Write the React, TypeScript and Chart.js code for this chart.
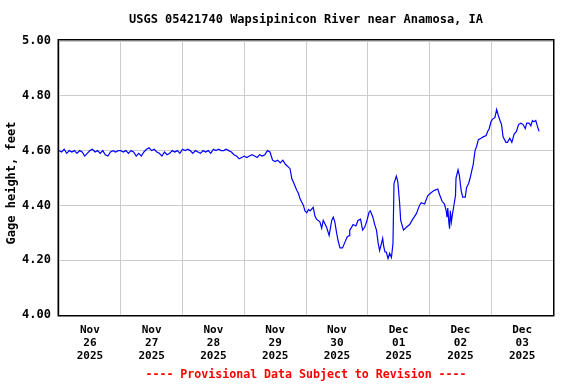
import React, { useEffect, useRef } from "react";
import { Chart, registerables } from "chart.js";

Chart.register(...registerables);

// Hours since Nov 26 2025 00:00
const hours: number[] = [
  0, 1, 2, 3, 4, 5, 6, 7, 8, 9, 10, 11, 12, 13, 14, 15, 16, 17, 18, 19, 20,
  21, 22, 23, 24, 25, 26, 27, 28, 29, 30, 31, 32, 33, 34, 35, 36, 37, 38, 39,
  40, 41, 42, 43, 44, 45, 46, 47, 48, 49, 50, 51, 52, 53, 54, 55, 56, 57, 58,
  59, 60, 61, 62, 63, 64, 65, 66, 67, 68, 69, 70, 71, 72, 73, 74, 75, 76, 77,
  78, 79, 80, 81, 82, 83, 84, 85, 86, 87, 88,
  89.8, 90.5, 91.1, 92.4, 93.0, 93.7, 95.0, 95.6, 96.3, 97.0, 97.6, 98.8,
  99.5, 100.1, 101.4, 102.1, 102.7, 104.0, 105.0, 106.0, 106.6, 107.2, 107.9,
  108.5, 109.2, 110.2, 111.1, 112.0, 112.8, 113.0, 113.7, 114.3, 115.4, 116.2,
  117.2, 118.0, 118.8, 119.7, 120.5, 121.0, 122.0, 122.7, 123.4, 124.0, 124.6,
  125.3, 125.8, 126.2, 126.7, 127.2, 127.9, 128.5, 129.2, 129.8, 130.2, 131.1,
  131.7, 132.4, 132.8, 133.9, 135.0, 136.3, 137.5, 138.9, 140.1, 140.8, 142.1,
  143.3, 144.7, 145.9, 147.2, 147.9, 148.9, 149.8, 150.5, 150.8, 151.1, 151.5,
  151.8, 152.1, 152.5, 152.8, 153.3, 154.1, 154.3, 155.1, 155.6, 156.3, 156.9,
  157.9, 158.4, 159.2, 159.8, 160.5, 161.0, 161.7, 162.3, 163.0, 164.0, 164.9,
  166.0, 166.6, 167.2, 167.9, 168.5, 169.4, 170.1, 170.7, 171.4, 172.0, 172.6,
  173.7, 174.3, 175.2, 176.0, 176.9, 177.8, 178.6, 179.5, 180.4, 181.2, 181.8,
  182.7, 183.4, 184.0, 184.6, 185.3, 185.9, 186.6,
];

// Gage height, feet
const gage: number[] = [
  4.6, 4.595, 4.605, 4.59, 4.6, 4.595, 4.6, 4.59, 4.6, 4.595, 4.58, 4.59, 4.6,
  4.605, 4.595, 4.6, 4.59, 4.6, 4.585, 4.58, 4.595, 4.6, 4.595, 4.6, 4.6,
  4.595, 4.6, 4.59, 4.6, 4.595, 4.58, 4.59, 4.58, 4.595, 4.605, 4.61, 4.6,
  4.605, 4.595, 4.59, 4.58, 4.595, 4.585, 4.59, 4.6, 4.595, 4.6, 4.59, 4.605,
  4.6, 4.605, 4.6, 4.59, 4.6, 4.595, 4.59, 4.6, 4.595, 4.6, 4.59, 4.605, 4.6,
  4.605, 4.6, 4.6, 4.605, 4.6, 4.595, 4.585, 4.58, 4.57, 4.575, 4.58, 4.575,
  4.58, 4.585, 4.58, 4.575, 4.585, 4.58, 4.585, 4.6, 4.595, 4.565, 4.56,
  4.565, 4.555, 4.565, 4.55,
  4.534, 4.497, 4.485, 4.455, 4.445, 4.424, 4.4, 4.38, 4.373, 4.385, 4.38,
  4.393, 4.36, 4.35, 4.34, 4.317, 4.345, 4.32, 4.29, 4.345, 4.357, 4.34, 4.3,
  4.27, 4.245, 4.245, 4.265, 4.285, 4.29, 4.31, 4.32, 4.33, 4.325, 4.345,
  4.35, 4.31, 4.32, 4.345, 4.375, 4.38, 4.357, 4.33, 4.31, 4.265, 4.235,
  4.26, 4.28, 4.25, 4.23, 4.23, 4.206, 4.225, 4.21, 4.26, 4.48, 4.507,
  4.486, 4.407, 4.345, 4.31, 4.32, 4.33, 4.35, 4.37, 4.4, 4.41, 4.405,
  4.435, 4.447, 4.455, 4.46, 4.44, 4.415, 4.405, 4.38, 4.357, 4.39, 4.34,
  4.315, 4.38, 4.34, 4.36, 4.39, 4.435, 4.5, 4.53, 4.51, 4.455, 4.43,
  4.43, 4.465, 4.48, 4.5, 4.53, 4.55, 4.6, 4.615, 4.64, 4.645, 4.65,
  4.655, 4.67, 4.68, 4.705, 4.715, 4.72, 4.75, 4.73, 4.71, 4.695, 4.65,
  4.63, 4.63, 4.645, 4.63, 4.66, 4.67, 4.695, 4.7, 4.695, 4.68, 4.7,
  4.7, 4.69, 4.71, 4.705, 4.71, 4.69, 4.67,
];

const tickMonths: string[] = ["Nov", "Nov", "Nov", "Nov", "Nov", "Dec", "Dec", "Dec"];
const tickDays: string[] = ["26", "27", "28", "29", "30", "01", "02", "03"];
const tickYears: string[] = ["2025", "2025", "2025", "2025", "2025", "2025", "2025", "2025"];
const yTicks: number[] = [4.0, 4.2, 4.4, 4.6, 4.8, 5.0];

const TITLE = "USGS 05421740 Wapsipinicon River near Anamosa, IA";
const FOOTER = "---- Provisional Data Subject to Revision ----";
const Y_TITLE = "Gage height, feet";
const FONT = "'DejaVu Sans Mono', 'Liberation Mono', monospace";

export default function App() {
  const ref = useRef<HTMLCanvasElement | null>(null);

  useEffect(() => {
    if (!ref.current) return;
    const points = hours.map((h, i) => ({ x: h, y: gage[i] }));

    const decor = {
      id: "decor",
      afterDatasetsDraw(chart: any) {
        const { ctx, chartArea } = chart;
        const { left, right, top, bottom } = chartArea;
        ctx.save();
        ctx.strokeStyle = "#000";
        ctx.lineWidth = 1.5;
        ctx.strokeRect(left - 0.75, top - 1.25, right - left + 1.5, bottom - top + 2);
        ctx.fillStyle = "#000";
        ctx.font = `bold 12px ${FONT}`;
        ctx.textAlign = "center";
        ctx.textBaseline = "middle";
        ctx.fillText(TITLE, (left + right) / 2, 20);
        ctx.fillStyle = "#ff0000";
        ctx.font = `bold 11.6px ${FONT}`;
        ctx.fillText(FOOTER, (left + right) / 2, 375);
        ctx.fillStyle = "#000";
        ctx.font = `bold 12px ${FONT}`;
        ctx.translate(12, 183);
        ctx.rotate(-Math.PI / 2);
        ctx.fillText(Y_TITLE, 0, 0);
        ctx.restore();
      },
    };

    const chart = new Chart(ref.current, {
      type: "line",
      data: {
        datasets: [
          {
            data: points,
            borderColor: "#0000ff",
            borderWidth: 1.2,
            pointRadius: 0,
            tension: 0,
            fill: false,
          },
        ],
      },
      options: {
        responsive: false,
        animation: false,
        layout: { padding: { left: 0, right: 23, top: 41, bottom: 0 } },
        plugins: { legend: { display: false }, tooltip: { enabled: false } },
        scales: {
          x: {
            type: "linear",
            min: 0,
            max: 192,
            afterFit: (s: any) => {
              s.height = 69;
            },
            afterBuildTicks: (s: any) => {
              const t = [];
              for (let v = 0; v <= 192; v += 12) t.push({ value: v });
              s.ticks = t;
            },
            border: { display: false },
            grid: {
              drawTicks: false,
              lineWidth: 1,
              color: (c: any) =>
                c.tick && c.tick.value % 24 === 0 ? "#cccccc" : "rgba(0,0,0,0)",
            },
            ticks: {
              autoSkip: false,
              maxRotation: 0,
              padding: 9,
              color: "#000",
              font: { family: FONT, size: 11, weight: "bold", lineHeight: 1.18 },
              callback: (v: any) => {
                const n = Number(v);
                if (n % 24 !== 12) return "";
                const i = (n - 12) / 24;
                return [tickMonths[i], tickDays[i], tickYears[i]];
              },
            },
          },
          y: {
            min: 4.0,
            max: 5.0,
            afterFit: (s: any) => {
              s.width = 59;
            },
            afterBuildTicks: (s: any) => {
              s.ticks = yTicks.map((v) => ({ value: v }));
            },
            border: { display: false },
            grid: { drawTicks: false, color: "#cccccc", lineWidth: 1 },
            ticks: {
              padding: 8,
              color: "#000",
              font: { family: FONT, size: 12, weight: "bold" },
              callback: (v: any) => Number(v).toFixed(2),
            },
          },
        },
      },
      plugins: [decor],
    });
    return () => chart.destroy();
  }, []);

  return (
    <div style={{ position: "absolute", left: 0, top: 0, width: 576, height: 384 }}>
      <canvas ref={ref} width={576} height={384} style={{ display: "block" }} />
    </div>
  );
}
